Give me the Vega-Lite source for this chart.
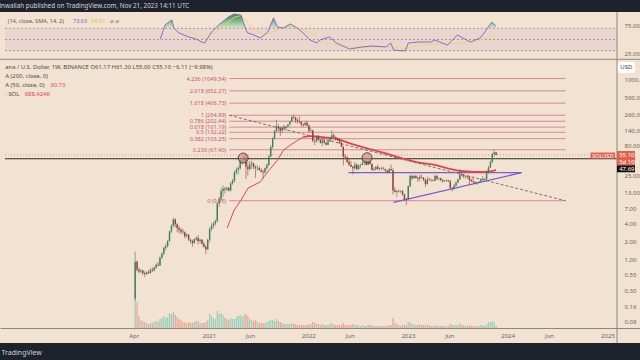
{
"$schema":"https://vega.github.io/schema/vega-lite/v6.json",
"width":640,"height":331,"autosize":{"type":"none"},
"padding":{"top":12,"bottom":17,"left":0,"right":0},
"background":"#1e222d",
"title":{"text":"inwallah published on TradingView.com, Nov 21, 2023 14:11 UTC","anchor":"start","fontSize":6.3,"fontWeight":"normal","color":"#d1d4dc","offset":2.5,"baseline":"bottom","dy":6,"font":"Noto Sans"},
"config":{"view":{"fill":"#f2e2d2","stroke":null},"axis":{"labelFont":"Noto Sans","titleFont":"Noto Sans","labelFontSize":6,"labelColor":"#6c6560","grid":false,"ticks":false,"domain":false,"labelOverlap":false},"text":{"font":"Noto Sans","fontSize":5.9}},
"datasets":{
"candles":[
{"d":"2020-04-06","o":0.22,"h":1.33,"l":0.2,"c":0.9,"v":35},
{"d":"2020-04-13","o":0.9,"h":0.95,"l":0.62,"c":0.66,"v":26},
{"d":"2020-04-20","o":0.66,"h":0.72,"l":0.58,"c":0.62,"v":12},
{"d":"2020-04-27","o":0.62,"h":0.68,"l":0.58,"c":0.64,"v":8},
{"d":"2020-05-04","o":0.64,"h":0.66,"l":0.54,"c":0.58,"v":7},
{"d":"2020-05-11","o":0.58,"h":0.62,"l":0.5,"c":0.56,"v":6},
{"d":"2020-05-18","o":0.56,"h":0.62,"l":0.54,"c":0.6,"v":5},
{"d":"2020-05-25","o":0.6,"h":0.65,"l":0.56,"c":0.58,"v":4},
{"d":"2020-06-01","o":0.58,"h":0.7,"l":0.57,"c":0.66,"v":5},
{"d":"2020-06-08","o":0.66,"h":0.72,"l":0.6,"c":0.64,"v":5},
{"d":"2020-06-15","o":0.64,"h":0.75,"l":0.62,"c":0.72,"v":6},
{"d":"2020-06-22","o":0.72,"h":0.85,"l":0.68,"c":0.8,"v":7},
{"d":"2020-06-29","o":0.8,"h":0.9,"l":0.75,"c":0.78,"v":6},
{"d":"2020-07-06","o":0.78,"h":1.1,"l":0.77,"c":1.05,"v":9},
{"d":"2020-07-13","o":1.05,"h":1.3,"l":1.0,"c":1.22,"v":10},
{"d":"2020-07-20","o":1.22,"h":1.6,"l":1.15,"c":1.55,"v":12},
{"d":"2020-07-27","o":1.55,"h":1.8,"l":1.4,"c":1.65,"v":10},
{"d":"2020-08-03","o":1.65,"h":2.1,"l":1.55,"c":2.0,"v":11},
{"d":"2020-08-10","o":2.0,"h":3.0,"l":1.95,"c":2.9,"v":15},
{"d":"2020-08-17","o":2.9,"h":3.8,"l":2.7,"c":3.6,"v":14},
{"d":"2020-08-24","o":3.6,"h":4.9,"l":3.4,"c":4.6,"v":16},
{"d":"2020-08-31","o":4.6,"h":4.8,"l":3.4,"c":3.8,"v":13},
{"d":"2020-09-07","o":3.8,"h":4.0,"l":2.8,"c":3.3,"v":11},
{"d":"2020-09-14","o":3.3,"h":3.6,"l":2.7,"c":3.1,"v":9},
{"d":"2020-09-21","o":3.1,"h":3.3,"l":2.6,"c":2.9,"v":8},
{"d":"2020-09-28","o":2.9,"h":3.2,"l":2.6,"c":2.8,"v":6},
{"d":"2020-10-05","o":2.8,"h":2.9,"l":2.2,"c":2.4,"v":6},
{"d":"2020-10-12","o":2.4,"h":2.7,"l":2.3,"c":2.55,"v":5},
{"d":"2020-10-19","o":2.55,"h":2.6,"l":2.0,"c":2.1,"v":6},
{"d":"2020-10-26","o":2.1,"h":2.2,"l":1.8,"c":2.0,"v":5},
{"d":"2020-11-02","o":2.0,"h":2.1,"l":1.6,"c":1.85,"v":5},
{"d":"2020-11-09","o":1.85,"h":2.2,"l":1.8,"c":2.15,"v":6},
{"d":"2020-11-16","o":2.15,"h":2.4,"l":2.0,"c":2.25,"v":7},
{"d":"2020-11-23","o":2.25,"h":2.5,"l":1.75,"c":2.0,"v":7},
{"d":"2020-11-30","o":2.0,"h":2.2,"l":1.85,"c":2.1,"v":5},
{"d":"2020-12-07","o":2.1,"h":2.15,"l":1.7,"c":1.8,"v":5},
{"d":"2020-12-14","o":1.8,"h":1.95,"l":1.55,"c":1.6,"v":5},
{"d":"2020-12-21","o":1.6,"h":1.7,"l":1.2,"c":1.45,"v":6},
{"d":"2020-12-28","o":1.45,"h":2.2,"l":1.4,"c":2.1,"v":8},
{"d":"2021-01-04","o":2.1,"h":3.4,"l":1.9,"c":3.2,"v":14},
{"d":"2021-01-11","o":3.2,"h":4.0,"l":2.9,"c":3.6,"v":12},
{"d":"2021-01-18","o":3.6,"h":4.2,"l":3.2,"c":3.9,"v":10},
{"d":"2021-01-25","o":3.9,"h":4.6,"l":3.6,"c":4.3,"v":9},
{"d":"2021-02-01","o":4.3,"h":9.0,"l":4.1,"c":8.5,"v":17},
{"d":"2021-02-08","o":8.5,"h":11.0,"l":7.4,"c":10.2,"v":14},
{"d":"2021-02-15","o":10.2,"h":15.5,"l":9.5,"c":13.8,"v":15},
{"d":"2021-02-22","o":13.8,"h":17.0,"l":11.0,"c":15.0,"v":13},
{"d":"2021-03-01","o":15.0,"h":16.0,"l":12.5,"c":14.5,"v":10},
{"d":"2021-03-08","o":14.5,"h":16.5,"l":13.8,"c":15.5,"v":9},
{"d":"2021-03-15","o":15.5,"h":16.0,"l":13.5,"c":14.0,"v":8},
{"d":"2021-03-22","o":14.0,"h":19.5,"l":13.6,"c":18.5,"v":10},
{"d":"2021-03-29","o":18.5,"h":22.0,"l":17.5,"c":20.5,"v":9},
{"d":"2021-04-05","o":20.5,"h":30.0,"l":19.0,"c":28.0,"v":9},
{"d":"2021-04-12","o":28.0,"h":34.0,"l":26.0,"c":31.0,"v":11},
{"d":"2021-04-19","o":31.0,"h":36.0,"l":26.0,"c":33.0,"v":12},
{"d":"2021-04-26","o":33.0,"h":46.0,"l":31.0,"c":44.0,"v":13},
{"d":"2021-05-03","o":44.0,"h":47.0,"l":38.0,"c":45.0,"v":11},
{"d":"2021-05-10","o":45.0,"h":55.0,"l":41.0,"c":50.0,"v":13},
{"d":"2021-05-17","o":50.0,"h":58.0,"l":22.0,"c":35.0,"v":14},
{"d":"2021-05-24","o":35.0,"h":42.0,"l":25.0,"c":32.0,"v":12},
{"d":"2021-05-31","o":32.0,"h":44.0,"l":30.0,"c":38.0,"v":9},
{"d":"2021-06-07","o":38.0,"h":44.0,"l":32.0,"c":40.0,"v":8},
{"d":"2021-06-14","o":40.0,"h":41.0,"l":32.0,"c":34.5,"v":7},
{"d":"2021-06-21","o":34.5,"h":37.0,"l":23.0,"c":33.0,"v":8},
{"d":"2021-06-28","o":33.0,"h":37.5,"l":30.0,"c":33.5,"v":6},
{"d":"2021-07-05","o":33.5,"h":36.0,"l":30.5,"c":31.0,"v":5},
{"d":"2021-07-12","o":31.0,"h":33.0,"l":28.0,"c":29.0,"v":5},
{"d":"2021-07-19","o":29.0,"h":31.0,"l":22.5,"c":28.0,"v":5},
{"d":"2021-07-26","o":28.0,"h":34.0,"l":27.0,"c":33.0,"v":5},
{"d":"2021-08-02","o":33.0,"h":40.0,"l":31.0,"c":38.0,"v":6},
{"d":"2021-08-09","o":38.0,"h":55.0,"l":36.0,"c":52.0,"v":7},
{"d":"2021-08-16","o":52.0,"h":80.0,"l":51.0,"c":75.0,"v":8},
{"d":"2021-08-23","o":75.0,"h":110,"l":70.0,"c":105,"v":8},
{"d":"2021-08-30","o":105,"h":145,"l":100,"c":140,"v":7},
{"d":"2021-09-06","o":140,"h":215,"l":130,"c":165,"v":9},
{"d":"2021-09-13","o":165,"h":180,"l":135,"c":155,"v":7},
{"d":"2021-09-20","o":155,"h":165,"l":115,"c":140,"v":6},
{"d":"2021-09-27","o":140,"h":165,"l":130,"c":160,"v":5},
{"d":"2021-10-04","o":160,"h":175,"l":148,"c":155,"v":4},
{"d":"2021-10-11","o":155,"h":170,"l":140,"c":165,"v":4},
{"d":"2021-10-18","o":165,"h":180,"l":160,"c":178,"v":4},
{"d":"2021-10-25","o":178,"h":205,"l":175,"c":200,"v":4},
{"d":"2021-11-01","o":200,"h":245,"l":195,"c":240,"v":5},
{"d":"2021-11-08","o":240,"h":260,"l":220,"c":235,"v":4},
{"d":"2021-11-15","o":235,"h":240,"l":190,"c":210,"v":4},
{"d":"2021-11-22","o":210,"h":225,"l":185,"c":205,"v":3},
{"d":"2021-11-29","o":205,"h":245,"l":185,"c":198,"v":3},
{"d":"2021-12-06","o":198,"h":200,"l":165,"c":180,"v":3},
{"d":"2021-12-13","o":180,"h":185,"l":160,"c":175,"v":3},
{"d":"2021-12-20","o":175,"h":200,"l":170,"c":190,"v":3},
{"d":"2021-12-27","o":190,"h":205,"l":168,"c":172,"v":3},
{"d":"2022-01-03","o":172,"h":178,"l":130,"c":140,"v":4},
{"d":"2022-01-10","o":140,"h":155,"l":130,"c":142,"v":4},
{"d":"2022-01-17","o":142,"h":146,"l":90,"c":95,"v":6},
{"d":"2022-01-24","o":95,"h":100,"l":81,"c":93,"v":5},
{"d":"2022-01-31","o":93,"h":118,"l":88,"c":113,"v":4},
{"d":"2022-02-07","o":113,"h":120,"l":96,"c":99,"v":4},
{"d":"2022-02-14","o":99,"h":102,"l":85,"c":88,"v":3},
{"d":"2022-02-21","o":88,"h":100,"l":77,"c":96,"v":4},
{"d":"2022-02-28","o":96,"h":105,"l":85,"c":88,"v":3},
{"d":"2022-03-07","o":88,"h":90,"l":80,"c":82,"v":3},
{"d":"2022-03-14","o":82,"h":94,"l":79,"c":93,"v":3},
{"d":"2022-03-21","o":93,"h":112,"l":92,"c":106,"v":4},
{"d":"2022-03-28","o":106,"h":143,"l":104,"c":118,"v":5},
{"d":"2022-04-04","o":118,"h":125,"l":108,"c":110,"v":3},
{"d":"2022-04-11","o":110,"h":112,"l":95,"c":104,"v":3},
{"d":"2022-04-18","o":104,"h":108,"l":94,"c":98,"v":3},
{"d":"2022-04-25","o":98,"h":104,"l":85,"c":88,"v":3},
{"d":"2022-05-02","o":88,"h":94,"l":75,"c":76,"v":3},
{"d":"2022-05-09","o":76,"h":78,"l":37,"c":52,"v":5},
{"d":"2022-05-16","o":52,"h":57,"l":48,"c":50,"v":3},
{"d":"2022-05-23","o":50,"h":53,"l":40,"c":42,"v":3},
{"d":"2022-05-30","o":42,"h":48,"l":36,"c":38,"v":3},
{"d":"2022-06-06","o":38,"h":44,"l":35,"c":35,"v":3},
{"d":"2022-06-13","o":35,"h":36,"l":26,"c":33,"v":4},
{"d":"2022-06-20","o":33,"h":42,"l":31,"c":38,"v":3},
{"d":"2022-06-27","o":38,"h":40,"l":31,"c":32,"v":3},
{"d":"2022-07-04","o":32,"h":38,"l":31,"c":37,"v":3},
{"d":"2022-07-11","o":37,"h":39,"l":33,"c":38,"v":2},
{"d":"2022-07-18","o":38,"h":48,"l":37,"c":41,"v":3},
{"d":"2022-07-25","o":41,"h":45,"l":37,"c":44,"v":2},
{"d":"2022-08-01","o":44,"h":45,"l":37,"c":38,"v":2},
{"d":"2022-08-08","o":38,"h":48,"l":37,"c":43,"v":3},
{"d":"2022-08-15","o":43,"h":48,"l":38,"c":39,"v":3},
{"d":"2022-08-22","o":39,"h":40,"l":30,"c":31,"v":3},
{"d":"2022-08-29","o":31,"h":34,"l":30,"c":32,"v":2},
{"d":"2022-09-05","o":32,"h":36,"l":30,"c":35,"v":2},
{"d":"2022-09-12","o":35,"h":38,"l":31,"c":32,"v":2},
{"d":"2022-09-19","o":32,"h":34,"l":30,"c":33,"v":2},
{"d":"2022-09-26","o":33,"h":35,"l":31,"c":32.5,"v":2},
{"d":"2022-10-03","o":32.5,"h":35,"l":31,"c":32,"v":2},
{"d":"2022-10-10","o":32,"h":33,"l":29,"c":30,"v":2},
{"d":"2022-10-17","o":30,"h":31,"l":27,"c":28,"v":2},
{"d":"2022-10-24","o":28,"h":33,"l":27,"c":32,"v":3},
{"d":"2022-10-31","o":32,"h":38,"l":30,"c":30.5,"v":3},
{"d":"2022-11-07","o":30.5,"h":33,"l":12,"c":14,"v":10},
{"d":"2022-11-14","o":14,"h":16,"l":13,"c":13.2,"v":5},
{"d":"2022-11-21","o":13.2,"h":14.5,"l":11,"c":13.6,"v":4},
{"d":"2022-11-28","o":13.6,"h":14.5,"l":13,"c":13.3,"v":3},
{"d":"2022-12-05","o":13.3,"h":14.2,"l":12.8,"c":13.6,"v":2},
{"d":"2022-12-12","o":13.6,"h":14.3,"l":11.5,"c":12,"v":3},
{"d":"2022-12-19","o":12,"h":12.5,"l":9.5,"c":10,"v":3},
{"d":"2022-12-26","o":10,"h":10.5,"l":8,"c":9.95,"v":3},
{"d":"2023-01-02","o":9.95,"h":17,"l":9.6,"c":16.5,"v":6},
{"d":"2023-01-09","o":16.5,"h":26,"l":16,"c":24.5,"v":6},
{"d":"2023-01-16","o":24.5,"h":26,"l":21,"c":22.5,"v":4},
{"d":"2023-01-23","o":22.5,"h":25.5,"l":22,"c":24.5,"v":4},
{"d":"2023-01-30","o":24.5,"h":26,"l":22,"c":23,"v":3},
{"d":"2023-02-06","o":23,"h":24,"l":19.5,"c":22,"v":3},
{"d":"2023-02-13","o":22,"h":26,"l":20,"c":23.5,"v":4},
{"d":"2023-02-20","o":23.5,"h":26,"l":22.5,"c":23,"v":3},
{"d":"2023-02-27","o":23,"h":23.5,"l":20,"c":21,"v":3},
{"d":"2023-03-06","o":21,"h":22,"l":16,"c":18,"v":3},
{"d":"2023-03-13","o":18,"h":24,"l":17.5,"c":21.5,"v":3},
{"d":"2023-03-20","o":21.5,"h":23,"l":20,"c":21.2,"v":3},
{"d":"2023-03-27","o":21.2,"h":22,"l":19.5,"c":21,"v":2},
{"d":"2023-04-03","o":21,"h":21.5,"l":20,"c":20.5,"v":2},
{"d":"2023-04-10","o":20.5,"h":26,"l":20,"c":24.5,"v":3},
{"d":"2023-04-17","o":24.5,"h":25.5,"l":21,"c":22,"v":2},
{"d":"2023-04-24","o":22,"h":23,"l":20.5,"c":22.5,"v":2},
{"d":"2023-05-01","o":22.5,"h":23,"l":20,"c":21,"v":2},
{"d":"2023-05-08","o":21,"h":21.5,"l":19,"c":20,"v":2},
{"d":"2023-05-15","o":20,"h":21,"l":19.5,"c":20.5,"v":2},
{"d":"2023-05-22","o":20.5,"h":21.5,"l":19.5,"c":20.8,"v":2},
{"d":"2023-05-29","o":20.8,"h":21.2,"l":19.5,"c":20,"v":2},
{"d":"2023-06-05","o":20,"h":21,"l":15,"c":15.5,"v":4},
{"d":"2023-06-12","o":15.5,"h":16,"l":13.5,"c":15,"v":3},
{"d":"2023-06-19","o":15,"h":18,"l":14.6,"c":16.8,"v":3},
{"d":"2023-06-26","o":16.8,"h":20,"l":16.5,"c":19,"v":3},
{"d":"2023-07-03","o":19,"h":22,"l":18.5,"c":21.5,"v":3},
{"d":"2023-07-10","o":21.5,"h":32,"l":21,"c":26,"v":5},
{"d":"2023-07-17","o":26,"h":28,"l":24,"c":25,"v":3},
{"d":"2023-07-24","o":25,"h":26,"l":22.5,"c":24,"v":3},
{"d":"2023-07-31","o":24,"h":25,"l":22,"c":24.5,"v":2},
{"d":"2023-08-07","o":24.5,"h":25,"l":22,"c":24,"v":2},
{"d":"2023-08-14","o":24,"h":24.5,"l":17.5,"c":21,"v":3},
{"d":"2023-08-21","o":21,"h":22,"l":19.5,"c":20,"v":2},
{"d":"2023-08-28","o":20,"h":23,"l":18.5,"c":19.5,"v":2},
{"d":"2023-09-04","o":19.5,"h":20,"l":18,"c":18.5,"v":2},
{"d":"2023-09-11","o":18.5,"h":19.5,"l":17.3,"c":19,"v":2},
{"d":"2023-09-18","o":19,"h":20,"l":18.5,"c":19.8,"v":2},
{"d":"2023-09-25","o":19.8,"h":22.5,"l":19,"c":21.5,"v":3},
{"d":"2023-10-02","o":21.5,"h":24.5,"l":21,"c":22,"v":3},
{"d":"2023-10-09","o":22,"h":22.5,"l":20.5,"c":21.5,"v":2},
{"d":"2023-10-16","o":21.5,"h":30,"l":21,"c":28,"v":4},
{"d":"2023-10-23","o":28,"h":36,"l":27,"c":34,"v":6},
{"d":"2023-10-30","o":34,"h":45,"l":33.5,"c":42,"v":6},
{"d":"2023-11-06","o":42,"h":60,"l":40,"c":57,"v":7},
{"d":"2023-11-13","o":57,"h":68,"l":52,"c":61.17,"v":6},
{"d":"2023-11-20","o":61.17,"h":61.3,"l":55.0,"c":55.1,"v":2}
],
"rsi":[
{"d":"2020-07-07","r":50.9},{"d":"2020-07-25","r":75.9},{"d":"2020-08-12","r":83},{"d":"2020-08-19","r":84.8},{"d":"2020-08-26","r":70.5},{"d":"2020-09-14","r":61.6},{"d":"2020-10-20","r":54.5},{"d":"2020-11-18","r":50.4},{"d":"2020-12-06","r":45.5},{"d":"2020-12-17","r":43.7},{"d":"2021-01-11","r":63.4},{"d":"2021-02-06","r":75.9},{"d":"2021-03-13","r":90},{"d":"2021-04-04","r":95.5},{"d":"2021-04-29","r":93.7},{"d":"2021-05-17","r":67},{"d":"2021-05-24","r":61.6},{"d":"2021-06-15","r":58},{"d":"2021-07-10","r":52.7},{"d":"2021-08-05","r":63.4},{"d":"2021-08-26","r":88.4},{"d":"2021-09-10","r":72.3},{"d":"2021-10-02","r":70.5},{"d":"2021-10-27","r":77.7},{"d":"2021-11-21","r":70.5},{"d":"2021-12-13","r":61.6},{"d":"2022-01-07","r":49.1},{"d":"2022-02-01","r":43.7},{"d":"2022-02-12","r":49.1},{"d":"2022-03-19","r":54.5},{"d":"2022-04-14","r":43.7},{"d":"2022-05-31","r":33},{"d":"2022-07-17","r":36.6},{"d":"2022-08-22","r":38.4},{"d":"2022-10-12","r":36.6},{"d":"2022-10-30","r":43.7},{"d":"2022-11-09","r":31.2},{"d":"2022-12-22","r":29.5},{"d":"2023-01-02","r":43.7},{"d":"2023-02-08","r":45.5},{"d":"2023-03-26","r":45.5},{"d":"2023-04-09","r":49},{"d":"2023-05-26","r":40},{"d":"2023-07-01","r":58},{"d":"2023-08-18","r":45.5},{"d":"2023-09-23","r":52.7},{"d":"2023-10-07","r":61.6},{"d":"2023-11-04","r":81},{"d":"2023-11-20","r":73.6}
],
"rsisma":[
{"d":"2020-10-13","s":67},{"d":"2020-11-11","s":58},{"d":"2020-12-17","s":50.4},{"d":"2021-01-22","s":61},{"d":"2021-02-27","s":76},{"d":"2021-04-04","s":89.6},{"d":"2021-04-29","s":93},{"d":"2021-06-15","s":70},{"d":"2021-07-21","s":58},{"d":"2021-09-10","s":67},{"d":"2021-10-16","s":76},{"d":"2021-11-06","s":74},{"d":"2021-12-28","s":64},{"d":"2022-02-01","s":54},{"d":"2022-02-12","s":46},{"d":"2022-04-14","s":40},{"d":"2022-06-11","s":36},{"d":"2022-10-12","s":37},{"d":"2022-12-22","s":34},{"d":"2023-02-08","s":40},{"d":"2023-06-07","s":43},{"d":"2023-09-01","s":46},{"d":"2023-11-12","s":57},{"d":"2023-11-20","s":58.6}
],
"ma1":[
{"d":"2021-03-09","p":3.3},{"d":"2021-04-04","p":6.6},{"d":"2021-04-29","p":9.7},{"d":"2021-05-25","p":15.4},{"d":"2021-06-16","p":17.3},{"d":"2021-07-10","p":19.7},{"d":"2021-07-21","p":23.5},{"d":"2021-08-16","p":33},{"d":"2021-09-10","p":45.5},{"d":"2021-10-02","p":66.5},{"d":"2021-10-27","p":81},{"d":"2021-11-21","p":95.6},{"d":"2021-12-13","p":110}
],
"ma2":[
{"d":"2021-12-13","p":110},{"d":"2021-12-31","p":114},{"d":"2022-01-18","p":114},{"d":"2022-02-12","p":111},{"d":"2022-04-14","p":103},{"d":"2022-06-11","p":84},{"d":"2022-08-11","p":69.6},{"d":"2022-10-12","p":58.8},{"d":"2022-12-08","p":49},{"d":"2023-02-01","p":42},{"d":"2023-04-10","p":37.5},{"d":"2023-05-27","p":32.9},{"d":"2023-07-12","p":29.7},{"d":"2023-09-01","p":28.6},{"d":"2023-10-07","p":28.6},{"d":"2023-10-29","p":29.4},{"d":"2023-11-12","p":30.2},{"d":"2023-11-20","p":30.73}
],
"fib":[
{"lv":"0 (9.45)","p":9.45},{"lv":"0.236 (67.40)","p":67.4},{"lv":"0.382 (103.25)","p":103.25},{"lv":"0.5 (132.22)","p":132.22},{"lv":"0.618 (161.19)","p":161.19},{"lv":"0.786 (202.44)","p":202.44},{"lv":"1 (254.99)","p":254.99},{"lv":"1.618 (406.73)","p":406.73},{"lv":"2.618 (652.27)","p":652.27},{"lv":"4.236 (1049.54)","p":1049.54}
],
"trend":[{"d":"2021-03-17","p":254.99},{"d":"2024-07-31","p":9.45}],
"tri":[{"id":"flat","d":"2022-05-28","p":27.9},{"id":"flat","d":"2024-02-21","p":27.9},{"id":"rise","d":"2022-11-09","p":8.9},{"id":"rise","d":"2024-02-21","p":27.9}],
"circles":[{"d":"2021-05-07","p":49},{"d":"2022-08-04","p":49.5}]
},
"resolve":{"scale":{"y":"independent"},"axis":{"y":"independent"}},
"layer":[
{"layer":[
{"data":{"name":"rsi"},"mark":{"type":"area","fill":{"gradient":"linear","x1":0,"y1":0,"x2":0,"y2":1,"stops":[{"offset":0,"color":"#2e8b47"},{"offset":0.39,"color":"#d5e9cf"},{"offset":1,"color":"#d5e9cf"}]}},
 "encoding":{"x":{"field":"d","type":"temporal"},"y":{"field":"r","type":"quantitative","scale":{"domain":[-491.96,99.107],"nice":false,"zero":false},"axis":{"orient":"right","offset":-18,"values":[75,25],"format":".2f","title":null,"labelAlign":"left","labelPadding":2}},"y2":{"datum":70}}},
{"data":{"values":[{}]},"mark":{"type":"rect","fill":"#ebd5d0"},
 "encoding":{"x":{"datum":{"year":2018,"month":12,"date":16,"utc":true},"type":"temporal"},"x2":{"datum":{"year":2025,"month":2,"date":5,"utc":true}},"y":{"datum":70,"type":"quantitative","scale":{"domain":[-491.96,99.107],"nice":false,"zero":false}},"y2":{"datum":30}}},
{"data":{"values":[{"lv":70},{"lv":50},{"lv":30}]},"mark":{"type":"rule","stroke":"#8a8279","strokeDash":[2,2],"strokeWidth":0.7},
 "encoding":{"x":{"datum":{"year":2018,"month":12,"date":16,"utc":true},"type":"temporal"},"x2":{"datum":{"year":2025,"month":2,"date":5,"utc":true}},"y":{"field":"lv","type":"quantitative","scale":{"domain":[-491.96,99.107],"nice":false,"zero":false}}}},
{"data":{"name":"rsisma"},"mark":{"type":"line","stroke":"#f0d270","strokeWidth":0.9},
 "encoding":{"x":{"field":"d","type":"temporal"},"y":{"field":"s","type":"quantitative","scale":{"domain":[-491.96,99.107],"nice":false,"zero":false}}}},
{"data":{"name":"rsi"},"mark":{"type":"line","stroke":"#8060c8","strokeWidth":0.9},
 "encoding":{"x":{"field":"d","type":"temporal"},"y":{"field":"r","type":"quantitative","scale":{"domain":[-491.96,99.107],"nice":false,"zero":false}}}},
{"data":{"values":[{}]},"mark":{"type":"text","text":"(14, close, SMA, 14, 2)","align":"left","baseline":"middle","color":"#5f5a55","fontSize":5.6},
 "encoding":{"x":{"datum":{"year":2018,"month":12,"date":26,"utc":true},"type":"temporal"},"y":{"datum":83,"type":"quantitative"}}},
{"data":{"values":[{}]},"mark":{"type":"text","text":"73.63","align":"left","baseline":"middle","color":"#8060c8","fontSize":5.6},
 "encoding":{"x":{"datum":{"year":2019,"month":8,"date":22,"utc":true},"type":"temporal"},"y":{"datum":83,"type":"quantitative"}}},
{"data":{"values":[{}]},"mark":{"type":"text","text":"58.61","align":"left","baseline":"middle","color":"#e8c547","fontSize":5.6},
 "encoding":{"x":{"datum":{"year":2019,"month":10,"date":28,"utc":true},"type":"temporal"},"y":{"datum":83,"type":"quantitative"}}},
{"data":{"values":[{}]},"mark":{"type":"text","text":"⌀  ⌀","font":"DejaVu Sans","align":"left","baseline":"middle","color":"#6c6560","fontSize":5.6},
 "encoding":{"x":{"datum":{"year":2020,"month":1,"date":6,"utc":true},"type":"temporal"},"y":{"datum":83,"type":"quantitative"}}}
]},
{"data":{"name":"candles"},"mark":{"type":"bar","width":1.3},
 "encoding":{"x":{"field":"d","type":"temporal"},"y":{"field":"v","type":"quantitative","scale":{"domain":[-15,316],"nice":false,"zero":false},"axis":null},"y2":{"datum":0},
  "color":{"condition":{"test":"datum.c >= datum.o","value":"#9dcfbd"},"value":"#eea596"}}},
{"layer":[
{"data":{"name":"fib"},"mark":{"type":"rule","stroke":"#d86e80","strokeWidth":0.8},
 "encoding":{"x":{"datum":{"year":2021,"month":3,"date":17,"utc":true},"type":"temporal"},"x2":{"datum":{"year":2024,"month":7,"date":31,"utc":true}},"y":{"field":"p","type":"quantitative","scale":{"type":"log","domain":[0.03926,13636],"nice":false,"zero":false},"axis":{"orient":"right","offset":-18,"values":[1000,500,260,140,80,25,13,7,4,2,1,0.55,0.3,0.16,0.09],"format":".2f","title":null,"labelAlign":"left","labelPadding":2}}}},
{"data":{"values":[{"p":55.1}]},"mark":{"type":"rule","stroke":"#e07a5f","strokeDash":[1,2],"strokeWidth":0.8},
 "encoding":{"x":{"datum":{"year":2018,"month":12,"date":16,"utc":true},"type":"temporal"},"x2":{"datum":{"year":2025,"month":2,"date":5,"utc":true}},"y":{"field":"p","type":"quantitative","scale":{"type":"log","domain":[0.03926,13636],"nice":false,"zero":false}}}},
{"data":{"values":[{"p":47.69}]},"mark":{"type":"rule","stroke":"#2b2b2b","strokeWidth":1},
 "encoding":{"x":{"datum":{"year":2018,"month":12,"date":16,"utc":true},"type":"temporal"},"x2":{"datum":{"year":2025,"month":2,"date":5,"utc":true}},"y":{"field":"p","type":"quantitative","scale":{"type":"log","domain":[0.03926,13636],"nice":false,"zero":false}}}},
{"data":{"name":"trend"},"mark":{"type":"line","stroke":"#5a5550","strokeDash":[3,2],"strokeWidth":0.8},
 "encoding":{"x":{"field":"d","type":"temporal"},"y":{"field":"p","type":"quantitative","scale":{"type":"log","domain":[0.03926,13636],"nice":false,"zero":false}}}},
{"data":{"name":"tri"},"mark":{"type":"line","stroke":"#7b5cd6","strokeWidth":1.3},
 "encoding":{"x":{"field":"d","type":"temporal"},"y":{"field":"p","type":"quantitative","scale":{"type":"log","domain":[0.03926,13636],"nice":false,"zero":false}},"detail":{"field":"id"}}},
{"data":{"name":"ma1"},"mark":{"type":"line","stroke":"#e0454f","strokeWidth":1},
 "encoding":{"x":{"field":"d","type":"temporal"},"y":{"field":"p","type":"quantitative","scale":{"type":"log","domain":[0.03926,13636],"nice":false,"zero":false}}}},
{"data":{"name":"ma2"},"mark":{"type":"line","stroke":"#e0454f","strokeWidth":1.8},
 "encoding":{"x":{"field":"d","type":"temporal"},"y":{"field":"p","type":"quantitative","scale":{"type":"log","domain":[0.03926,13636],"nice":false,"zero":false}}}},
{"data":{"name":"candles"},"mark":{"type":"rule","strokeWidth":0.6},
 "encoding":{"x":{"field":"d","type":"temporal","scale":{"type":"utc","domain":[{"year":2018,"month":12,"date":16,"utc":true},{"year":2025,"month":4,"date":12,"utc":true}]},
   "axis":{"orient":"bottom","offset":-15,"values":[{"year":2020,"month":4,"date":1,"utc":true},{"year":2021,"month":1,"date":1,"utc":true},{"year":2021,"month":6,"date":1,"utc":true},{"year":2022,"month":1,"date":1,"utc":true},{"year":2022,"month":6,"date":1,"utc":true},{"year":2023,"month":1,"date":1,"utc":true},{"year":2023,"month":6,"date":1,"utc":true},{"year":2024,"month":1,"date":1,"utc":true},{"year":2024,"month":6,"date":1,"utc":true},{"year":2025,"month":1,"date":1,"utc":true}],
   "labelExpr":"utcFormat(datum.value, '%m') === '01' ? utcFormat(datum.value, '%Y') : utcFormat(datum.value, '%b')",
   "domain":true,"domainColor":"#8f877d","domainWidth":1,"labelPadding":4,
   "title":"TradingView","titleX":1,"titleY":24,"titleAnchor":"start","titleAlign":"left","titleBaseline":"middle","titleColor":"#d1d4dc","titleFontSize":7,"titleFontWeight":"normal"}},
  "y":{"field":"l","type":"quantitative","scale":{"type":"log","domain":[0.03926,13636],"nice":false,"zero":false}},"y2":{"field":"h"},
  "color":{"condition":{"test":"datum.c >= datum.o","value":"#3f7f57"},"value":"#8d3f3b"}}},
{"data":{"name":"candles"},"mark":{"type":"rule","strokeWidth":1.4},
 "encoding":{"x":{"field":"d","type":"temporal"},"y":{"field":"o","type":"quantitative","scale":{"type":"log","domain":[0.03926,13636],"nice":false,"zero":false}},"y2":{"field":"c"},
  "color":{"condition":{"test":"datum.c >= datum.o","value":"#3f7f57"},"value":"#8d3f3b"}}},
{"data":{"name":"circles"},"mark":{"type":"circle","size":100,"fill":"#c98476","fillOpacity":0.55,"stroke":"#3a2e2a","strokeWidth":0.8},
 "encoding":{"x":{"field":"d","type":"temporal"},"y":{"field":"p","type":"quantitative","scale":{"type":"log","domain":[0.03926,13636],"nice":false,"zero":false}}}},
{"data":{"name":"fib"},"mark":{"type":"text","align":"right","baseline":"middle","dx":-3,"color":"#c8566c","fontSize":5.6},
 "encoding":{"x":{"datum":{"year":2021,"month":3,"date":17,"utc":true},"type":"temporal"},"y":{"field":"p","type":"quantitative","scale":{"type":"log","domain":[0.03926,13636],"nice":false,"zero":false}},"text":{"field":"lv"}}},
{"data":{"values":[{}]},"mark":{"type":"text","text":"ana / U.S. Dollar, 1W, BINANCE  O61.17  H61.30  L55.00  C55.10  −6.11 (−9.98%)","align":"left","baseline":"middle","color":"#4f4944"},
 "encoding":{"x":{"datum":{"year":2018,"month":12,"date":17,"utc":true},"type":"temporal"},"y":{"datum":1637,"type":"quantitative"}}},
{"data":{"values":[{}]},"mark":{"type":"text","text":"A (200, close, 0)","align":"left","baseline":"middle","color":"#4f4944"},
 "encoding":{"x":{"datum":{"year":2018,"month":12,"date":17,"utc":true},"type":"temporal"},"y":{"datum":1156,"type":"quantitative"}}},
{"data":{"values":[{}]},"mark":{"type":"text","text":"A (50, close, 0)","align":"left","baseline":"middle","color":"#4f4944"},
 "encoding":{"x":{"datum":{"year":2018,"month":12,"date":17,"utc":true},"type":"temporal"},"y":{"datum":818,"type":"quantitative"}}},
{"data":{"values":[{}]},"mark":{"type":"text","text":"30.73","align":"left","baseline":"middle","color":"#e0454f"},
 "encoding":{"x":{"datum":{"year":2019,"month":5,"date":31,"utc":true},"type":"temporal"},"y":{"datum":818,"type":"quantitative"}}},
{"data":{"values":[{}]},"mark":{"type":"text","text":"· SOL","align":"left","baseline":"middle","color":"#4f4944"},
 "encoding":{"x":{"datum":{"year":2018,"month":12,"date":17,"utc":true},"type":"temporal"},"y":{"datum":578,"type":"quantitative"}}},
{"data":{"values":[{}]},"mark":{"type":"text","text":"688.424K","align":"left","baseline":"middle","color":"#e0454f"},
 "encoding":{"x":{"datum":{"year":2019,"month":2,"date":26,"utc":true},"type":"temporal"},"y":{"datum":578,"type":"quantitative"}}},
{"data":{"values":[{}]},"mark":{"type":"rule","stroke":"#8f877d","strokeWidth":1},
 "encoding":{"y":{"datum":2202,"type":"quantitative"}}},
{"data":{"values":[{}]},"mark":{"type":"rule","stroke":"#8f877d","strokeWidth":1},
 "encoding":{"x":{"datum":{"year":2025,"month":2,"date":5,"utc":true},"type":"temporal"}}},
{"data":{"values":[{}]},"mark":{"type":"rect","fill":"#ffffff","cornerRadius":2},
 "encoding":{"x":{"datum":{"year":2025,"month":2,"date":8,"utc":true},"type":"temporal"},"x2":{"datum":{"year":2025,"month":4,"date":12,"utc":true}},"y":{"datum":1985,"type":"quantitative"},"y2":{"datum":1298}}},
{"data":{"values":[{}]},"mark":{"type":"text","text":"USD","align":"left","baseline":"middle","color":"#333333","fontSize":6},
 "encoding":{"x":{"datum":{"year":2025,"month":2,"date":17,"utc":true},"type":"temporal"},"y":{"datum":1607,"type":"quantitative"}}},
{"data":{"values":[{}]},"mark":{"type":"rect","fill":"#e2614d"},
 "encoding":{"x":{"datum":{"year":2024,"month":10,"date":31,"utc":true},"type":"temporal"},"x2":{"datum":{"year":2025,"month":1,"date":29,"utc":true}},"y":{"datum":60.6,"type":"quantitative"},"y2":{"datum":48.1}}},
{"data":{"values":[{}]},"mark":{"type":"text","text":"SOLUSD","align":"center","baseline":"middle","color":"#ffffff","fontSize":5.5},
 "encoding":{"x":{"datum":{"year":2024,"month":12,"date":15,"utc":true},"type":"temporal"},"y":{"datum":54,"type":"quantitative"}}},
{"data":{"values":[{}]},"mark":{"type":"rect","fill":"#e2614d"},
 "encoding":{"x":{"datum":{"year":2025,"month":2,"date":5,"utc":true},"type":"temporal"},"x2":{"datum":{"year":2025,"month":4,"date":12,"utc":true}},"y":{"datum":64.3,"type":"quantitative"},"y2":{"datum":36.0}}},
{"data":{"values":[{}]},"mark":{"type":"rect","fill":"#111111"},
 "encoding":{"x":{"datum":{"year":2025,"month":2,"date":5,"utc":true},"type":"temporal"},"x2":{"datum":{"year":2025,"month":4,"date":12,"utc":true}},"y":{"datum":36.7,"type":"quantitative"},"y2":{"datum":28.3}}},
{"data":{"values":[{}]},"mark":{"type":"text","text":"55.10","align":"left","baseline":"middle","color":"#ffffff","fontSize":6},
 "encoding":{"x":{"datum":{"year":2025,"month":2,"date":13,"utc":true},"type":"temporal"},"y":{"datum":55.1,"type":"quantitative"}}},
{"data":{"values":[{}]},"mark":{"type":"text","text":"5d 10h","align":"left","baseline":"middle","color":"#ffffff","fontSize":6},
 "encoding":{"x":{"datum":{"year":2025,"month":2,"date":13,"utc":true},"type":"temporal"},"y":{"datum":42,"type":"quantitative"}}},
{"data":{"values":[{}]},"mark":{"type":"text","text":"47.69","align":"left","baseline":"middle","color":"#ffffff","fontSize":6},
 "encoding":{"x":{"datum":{"year":2025,"month":2,"date":13,"utc":true},"type":"temporal"},"y":{"datum":32.1,"type":"quantitative"}}}
]}
]
}
